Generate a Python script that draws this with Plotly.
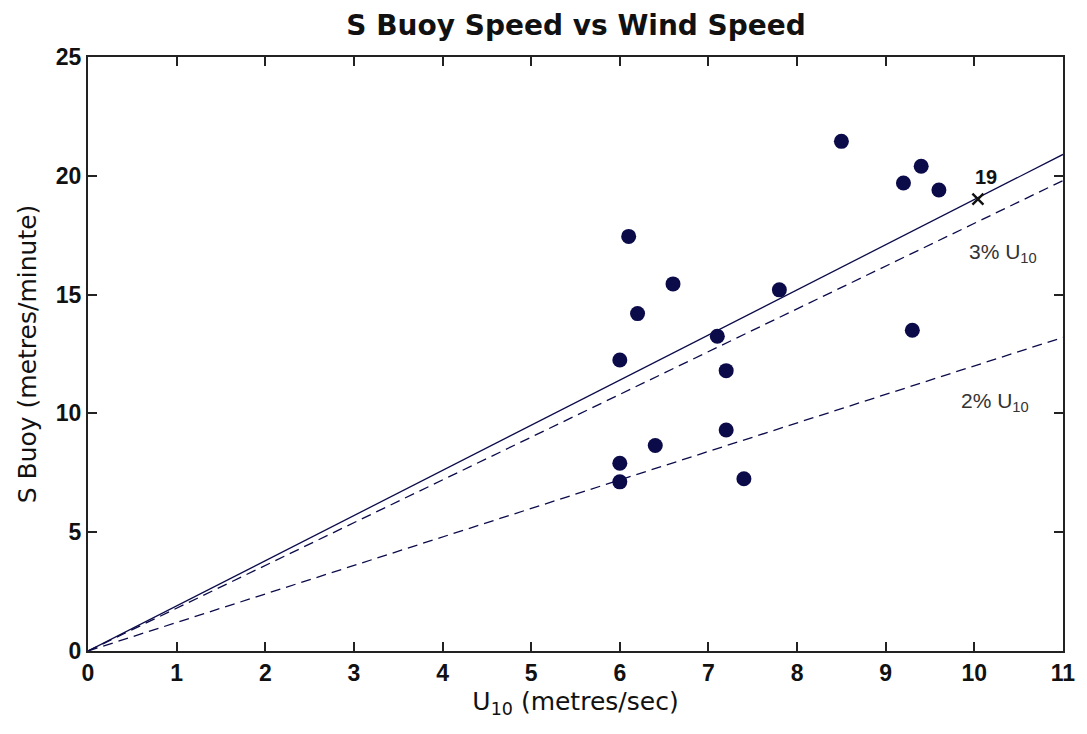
import plotly.graph_objects as go

# Wind speed (m/s) and buoy speed (m/min) observations
u10 = [6.0, 6.0, 6.0, 6.1, 6.2, 6.4, 6.6, 7.1, 7.2, 7.2, 7.4, 7.8, 8.5, 9.2, 9.3, 9.4, 9.6]
s_buoy = [12.25, 7.9, 7.12, 17.45, 14.2, 8.65, 15.45, 13.25, 11.8, 9.3, 7.25, 15.2, 21.45, 19.7, 13.5, 20.4, 19.4]

# Separate run marked with a cross
run19_u = [10.04]
run19_s = [19.02]

# Line parameters (m/min per m/s)
fit_slope = 1.9
pct3 = 0.03 * 60
pct2 = 0.02 * 60
x_line = [0, 11]

x_ticks = list(range(0, 12))
y_ticks = [0, 5, 10, 15, 20, 25]

navy = "#0b0b4a"
tick_font = dict(family="Liberation Sans, Arial", size=23, color="#111", weight="bold")
label_font = dict(family="DejaVu Sans, Liberation Sans", size=25, color="#111")

fig = go.Figure()
fig.add_trace(go.Scatter(x=x_line, y=[fit_slope * v for v in x_line], mode="lines",
                         line=dict(color=navy, width=1.3)))
fig.add_trace(go.Scatter(x=x_line, y=[pct3 * v for v in x_line], mode="lines",
                         line=dict(color=navy, width=1.3, dash="10px,6px")))
fig.add_trace(go.Scatter(x=x_line, y=[pct2 * v for v in x_line], mode="lines",
                         line=dict(color=navy, width=1.3, dash="10px,6px")))
fig.add_trace(go.Scatter(x=u10, y=s_buoy, mode="markers",
                         marker=dict(color=navy, size=15, line=dict(width=0))))
fig.add_trace(go.Scatter(x=run19_u, y=run19_s, mode="markers",
                         marker=dict(symbol="x-thin", size=11, line=dict(color="#111", width=2.4))))

fig.add_annotation(x=run19_u[0], y=run19_s[0], text="<b>19</b>", showarrow=False,
                   xanchor="center", yanchor="middle", xshift=8, yshift=22,
                   font=dict(family="Liberation Sans, Arial", size=20, color="#111"))
fig.add_annotation(x=10.32, y=16.75, text="3% U<sub>10</sub>", showarrow=False,
                   font=dict(family="Liberation Sans, Arial", size=21, color="#333"))
fig.add_annotation(x=10.23, y=10.5, text="2% U<sub>10</sub>", showarrow=False,
                   font=dict(family="Liberation Sans, Arial", size=21, color="#333"))

axis_common = dict(showgrid=False, zeroline=False, showline=True, linecolor="#222", linewidth=2,
                   mirror="ticks", ticks="inside", ticklen=9, tickwidth=1.5, tickcolor="#222",
                   tickfont=tick_font)

fig.update_layout(
    width=1087, height=734,
    margin=dict(l=88, r=17, t=57, b=83),
    paper_bgcolor="white", plot_bgcolor="white",
    showlegend=False,
    title=dict(text="<b>S Buoy Speed vs Wind Speed</b>", x=0.53, xanchor="center", y=0.965, yanchor="middle",
               font=dict(family="DejaVu Sans, Liberation Sans", size=28, color="#111")),
    xaxis=dict(range=[0, 11], tickvals=x_ticks,
               title=dict(text="U<sub>10</sub> (metres/sec)", standoff=8, font=label_font),
               **axis_common),
    yaxis=dict(range=[0, 25], tickvals=y_ticks,
               title=dict(text="S Buoy (metres/minute)", standoff=12, font=label_font),
               **axis_common),
)

fig.write_html("out.html")
